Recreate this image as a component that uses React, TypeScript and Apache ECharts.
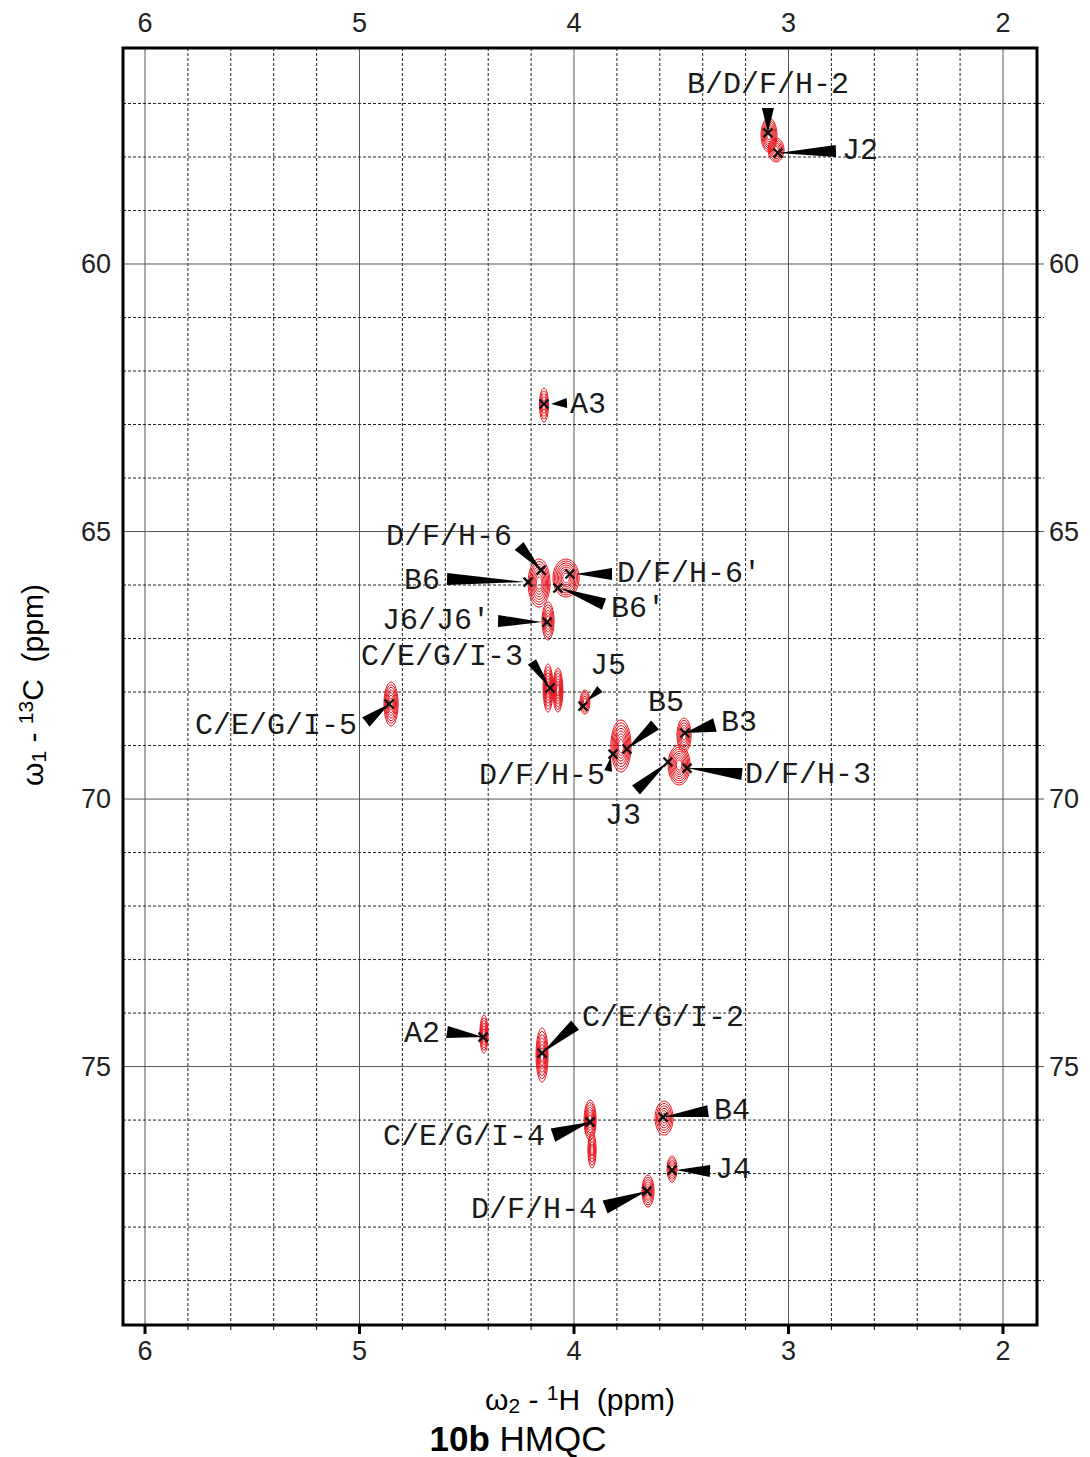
import React, { useEffect, useRef } from "react";
import * as echarts from "echarts";

// ---- axis extents (ppm) ----
const X_MIN = 1.8415;
const X_MAX = 6.1026;
const Y_MIN = 55.963;
const Y_MAX = 79.83;

// ---- tick labels & grid lines ----
const xTickLabels = [2, 3, 4, 5, 6];
const yTickLabels = [60, 65, 70, 75];
const xMajorLines = [2, 3, 4, 5, 6];
const xMinorLines = [2.2, 2.4, 2.6, 2.8, 3.2, 3.4, 3.6, 3.8, 4.2, 4.4, 4.6, 4.8, 5.2, 5.4, 5.6, 5.8];
const yMajorLines = [60, 65, 70, 75];
const yMinorLines = [57, 58, 59, 61, 62, 63, 64, 66, 67, 68, 69, 71, 72, 73, 74, 76, 77, 78, 79];

// ---- contour blobs: centre (1H, 13C), half-widths (ppm), number of levels ----
const contourCenters = [
  [3.091, 57.589], [3.058, 57.869], [4.14, 62.636], [4.163, 65.963], [4.037, 65.869],
  [4.121, 66.673], [4.121, 67.925], [4.075, 67.963], [3.949, 68.187], [4.853, 68.224],
  [3.781, 69.009], [3.487, 68.804], [3.51, 69.364], [4.42, 74.393], [4.149, 74.785],
  [3.925, 76.0], [3.916, 76.561], [3.58, 75.963], [3.543, 76.916], [3.655, 77.327],
];
const contourRadii = [
  [0.037, 0.318], [0.037, 0.224], [0.021, 0.318], [0.051, 0.449], [0.061, 0.355],
  [0.028, 0.355], [0.023, 0.449], [0.023, 0.411], [0.023, 0.224], [0.033, 0.411],
  [0.047, 0.486], [0.033, 0.318], [0.051, 0.374], [0.019, 0.355], [0.028, 0.505],
  [0.028, 0.374], [0.019, 0.336], [0.042, 0.318], [0.023, 0.243], [0.028, 0.299],
];
const contourLevels = [7, 6, 5, 8, 8, 6, 7, 7, 5, 7, 8, 6, 8, 6, 7, 7, 5, 6, 5, 6];

// ---- assigned cross peaks (1H, 13C) ----
const peakPositions = [
  [3.096, 57.551], [3.049, 57.925], [4.14, 62.617], [4.154, 65.72], [4.214, 65.944],
  [4.019, 65.794], [4.075, 66.056], [4.126, 66.692], [4.112, 67.925], [3.958, 68.262],
  [4.862, 68.224], [3.753, 69.065], [3.818, 69.159], [3.483, 68.766], [3.473, 69.421],
  [3.562, 69.308], [4.424, 74.449], [4.149, 74.748], [3.925, 76.037], [3.585, 75.944],
  [3.543, 76.935], [3.66, 77.327],
];

// ---- peak labels ----
const labelTexts = [
  "B/D/F/H-2", "J2", "A3", "D/F/H-6", "B6", "D/F/H-6\u2032", "B6\u2032", "J6/J6\u2032",
  "C/E/G/I-3", "J5", "C/E/G/I-5", "B5", "D/F/H-5", "B3", "D/F/H-3", "J3", "A2",
  "C/E/G/I-2", "C/E/G/I-4", "B4", "J4", "D/F/H-4",
];
const labelPositions = [
  [3.096, 56.654], [2.751, 57.888], [4.019, 62.636], [4.289, 65.103], [4.625, 65.925],
  [3.8, 65.794], [3.828, 66.449], [4.392, 66.673], [4.238, 67.346], [3.925, 67.514],
  [5.012, 68.636], [3.655, 68.206], [3.855, 69.57], [3.315, 68.579], [3.203, 69.551],
  [3.772, 70.318], [4.625, 74.393], [3.963, 74.093], [4.135, 76.318], [3.347, 75.832],
  [3.343, 76.935], [3.893, 77.682],
];
const labelAligns = [
  "center", "left", "left", "right", "right", "left", "left", "right", "right", "left",
  "right", "left", "right", "left", "left", "center", "right", "left", "right", "left",
  "left", "right",
];
// wedge pointers: tip (near the peak) and base (near the label)
const wedgeTips = [
  [3.096, 57.551], [3.049, 57.925], [4.107, 62.617], [4.154, 65.72], [4.228, 65.944],
  [3.991, 65.794], [4.065, 66.056], [4.15, 66.692], [4.112, 67.925], [3.939, 68.168],
  [4.862, 68.224], [3.753, 69.065], [3.828, 69.215], [3.483, 68.766], [3.473, 69.421],
  [3.562, 69.308], [4.424, 74.449], [4.149, 74.748], [3.925, 76.037], [3.585, 75.944],
  [3.524, 76.935], [3.66, 77.327],
];
const wedgeBases = [
  [3.096, 57.084], [2.779, 57.888], [4.033, 62.6], [4.256, 65.271], [4.592, 65.888],
  [3.823, 65.794], [3.86, 66.355], [4.354, 66.673], [4.196, 67.439], [3.879, 67.944],
  [4.97, 68.561], [3.622, 68.617], [3.841, 69.477], [3.343, 68.617], [3.217, 69.533],
  [3.711, 69.832], [4.592, 74.355], [3.995, 74.224], [4.098, 76.28], [3.375, 75.832],
  [3.366, 76.953], [3.855, 77.626],
];
const wedgeHalfWidths = [6, 6, 5, 6, 6, 6, 6, 6, 5, 4, 6, 6, 4, 7, 6, 6, 6, 6, 7, 6, 6, 7];

const RED = "#e8101a";
const LABEL_FONT = "Liberation Mono";
const SANS = "Liberation Sans";

export default function App() {
  const ref = useRef<HTMLDivElement>(null);

  useEffect(() => {
    if (!ref.current) return;
    const chart = echarts.init(ref.current, null, { renderer: "svg" });

    const gridData: number[][] = [];
    xMinorLines.forEach((v) => gridData.push([v, 0]));
    xMajorLines.forEach((v) => gridData.push([v, 1]));
    yMinorLines.forEach((v) => gridData.push([v, 2]));
    yMajorLines.forEach((v) => gridData.push([v, 3]));

    const contourData = contourCenters.map((c, i) => [
      c[0], c[1], contourRadii[i][0], contourRadii[i][1], contourLevels[i],
    ]);
    const wedgeData = wedgeTips.map((t, i) => [
      t[0], t[1], wedgeBases[i][0], wedgeBases[i][1], wedgeHalfWidths[i],
    ]);
    const labelData = labelPositions.map((p, i) => [p[0], p[1], i]);

    const axisLabelStyle = {
      fontSize: 27,
      fontFamily: SANS,
      color: "#222",
      margin: 12,
    };

    const rich = {
      n: { fontSize: 30, fontFamily: SANS, color: "#222", lineHeight: 34, verticalAlign: "middle" },
      sub: { fontSize: 21, fontFamily: SANS, color: "#222", lineHeight: 34, verticalAlign: "bottom" },
      sup: { fontSize: 21, fontFamily: SANS, color: "#222", lineHeight: 34, verticalAlign: "top" },
    };

    const option: any = {
      animation: false,
      backgroundColor: "#fff",
      grid: {
        left: 123,
        top: 48,
        width: 914,
        height: 1277,
        show: true,
        borderColor: "#000",
        borderWidth: 3,
        backgroundColor: "transparent",
        z: 10,
      },
      xAxis: [
        {
          type: "value",
          position: "bottom",
          min: X_MIN,
          max: X_MAX,
          inverse: true,
          axisLine: { show: false },
          axisTick: { show: false },
          splitLine: { show: false },
          axisLabel: { ...axisLabelStyle, customValues: xTickLabels },
        },
        {
          type: "value",
          position: "top",
          min: X_MIN,
          max: X_MAX,
          inverse: true,
          axisLine: { show: false },
          axisTick: { show: false },
          splitLine: { show: false },
          axisLabel: { ...axisLabelStyle, customValues: xTickLabels },
        },
      ],
      yAxis: [
        {
          type: "value",
          position: "left",
          min: Y_MIN,
          max: Y_MAX,
          inverse: true,
          axisLine: { show: false },
          axisTick: { show: false },
          splitLine: { show: false },
          axisLabel: { ...axisLabelStyle, customValues: yTickLabels },
        },
        {
          type: "value",
          position: "right",
          min: Y_MIN,
          max: Y_MAX,
          inverse: true,
          axisLine: { show: false },
          axisTick: { show: false },
          splitLine: { show: false },
          axisLabel: { ...axisLabelStyle, customValues: yTickLabels },
        },
      ],
      graphic: [
        {
          type: "text",
          x: 580,
          y: 1399,
          style: {
            text: "{n|\u03c9}{sub|2}{n| - }{sup|1}{n|H  (ppm)}",
            align: "center",
            verticalAlign: "middle",
            rich,
          },
          z: 20,
        },
        {
          type: "text",
          x: 518,
          y: 1438,
          style: {
            text: "{b|10b }{n|HMQC}",
            align: "center",
            verticalAlign: "middle",
            rich: {
              b: { fontSize: 35, lineHeight: 34, fontWeight: "bold", fontFamily: SANS, color: "#111" },
              n: { fontSize: 35, lineHeight: 34, fontFamily: SANS, color: "#111" },
            },
          },
          z: 20,
        },
        {
          type: "text",
          x: 32,
          y: 685,
          rotation: Math.PI / 2,
          style: {
            text: "{n|\u03c9}{sub|1}{n| - }{sup|13}{n|C  (ppm)}",
            align: "center",
            verticalAlign: "middle",
            rich,
          },
          z: 20,
        },
      ],
      series: [
        {
          type: "custom",
          name: "grid",
          coordinateSystem: "cartesian2d",
          clip: false,
          z: 1,
          silent: true,
          data: gridData,
          renderItem: (params: any, api: any) => {
            const cs = params.coordSys;
            const v = api.value(0);
            const kind = api.value(1);
            const children: any[] = [];
            if (kind < 2) {
              const px = api.coord([v, Y_MIN])[0];
              const major = kind === 1;
              const st: any = major
                ? { stroke: "#555", lineWidth: 1 }
                : { stroke: "#222", lineWidth: 1, lineDash: [3, 2] };
              children.push({
                type: "line",
                shape: { x1: px, y1: cs.y, x2: px, y2: cs.y + cs.height },
                style: st,
              });
              children.push({
                type: "line",
                shape: { x1: px, y1: cs.y + cs.height, x2: px, y2: cs.y + cs.height + (major ? 9 : 5) },
                style: { stroke: "#000", lineWidth: major ? 3 : 1 },
              });
            } else {
              const py = api.coord([X_MIN, v])[1];
              const major = kind === 3;
              const st: any = major
                ? { stroke: "#555", lineWidth: 1 }
                : { stroke: "#222", lineWidth: 1, lineDash: [3, 2] };
              children.push({
                type: "line",
                shape: { x1: cs.x, y1: py, x2: cs.x + cs.width + 7, y2: py },
                style: st,
              });
            }
            return { type: "group", children };
          },
        },
        {
          type: "custom",
          name: "contours",
          coordinateSystem: "cartesian2d",
          z: 2,
          silent: true,
          data: contourData,
          renderItem: (params: any, api: any) => {
            const c = api.coord([api.value(0), api.value(1)]);
            const sz = api.size([api.value(2), api.value(3)], [api.value(0), api.value(1)]);
            const n = api.value(4);
            const children: any[] = [];
            for (let k = 0; k < n; k++) {
              const f = 1 - (k * 0.85) / n;
              children.push({
                type: "ellipse",
                shape: { cx: c[0], cy: c[1], rx: sz[0] * f, ry: sz[1] * f },
                style: { fill: "none", stroke: RED, lineWidth: 1 },
              });
            }
            return { type: "group", children };
          },
        },
        {
          type: "custom",
          name: "wedges",
          coordinateSystem: "cartesian2d",
          clip: false,
          z: 3,
          silent: true,
          data: wedgeData,
          renderItem: (params: any, api: any) => {
            const t = api.coord([api.value(0), api.value(1)]);
            const b = api.coord([api.value(2), api.value(3)]);
            const h = api.value(4);
            const dx = t[0] - b[0];
            const dy = t[1] - b[1];
            const len = Math.sqrt(dx * dx + dy * dy) || 1;
            const nx = -dy / len;
            const ny = dx / len;
            return {
              type: "polygon",
              shape: {
                points: [
                  [t[0], t[1]],
                  [b[0] + nx * h, b[1] + ny * h],
                  [b[0] - nx * h, b[1] - ny * h],
                ],
              },
              style: { fill: "#000", stroke: "none" },
            };
          },
        },
        {
          type: "custom",
          name: "peaks",
          coordinateSystem: "cartesian2d",
          z: 4,
          silent: true,
          data: peakPositions,
          renderItem: (params: any, api: any) => {
            const p = api.coord([api.value(0), api.value(1)]);
            const s = 4.5;
            const st = { stroke: "#111", lineWidth: 2.4 };
            return {
              type: "group",
              children: [
                { type: "line", shape: { x1: p[0] - s, y1: p[1] - s, x2: p[0] + s, y2: p[1] + s }, style: st },
                { type: "line", shape: { x1: p[0] - s, y1: p[1] + s, x2: p[0] + s, y2: p[1] - s }, style: st },
              ],
            };
          },
        },
        {
          type: "custom",
          name: "labels",
          coordinateSystem: "cartesian2d",
          clip: false,
          z: 5,
          silent: true,
          data: labelData,
          renderItem: (params: any, api: any) => {
            const p = api.coord([api.value(0), api.value(1)]);
            const i = api.value(2);
            return {
              type: "text",
              x: p[0],
              y: p[1],
              style: {
                text: labelTexts[i],
                fontFamily: LABEL_FONT,
                fontSize: 30,
                fill: "#1a1a1a",
                align: labelAligns[i],
                verticalAlign: "middle",
              },
            };
          },
        },
      ],
    };

    chart.setOption(option);
    return () => chart.dispose();
  }, []);

  return (
    <div
      ref={ref}
      style={{ position: "absolute", left: 0, top: 0, width: 1090, height: 1457, background: "#fff" }}
    />
  );
}
